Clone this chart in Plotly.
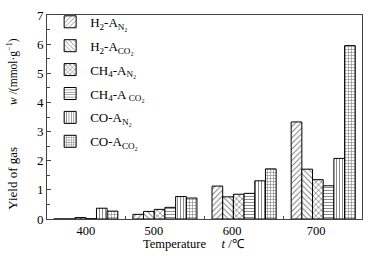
import plotly.graph_objects as go

temps = ["400", "500", "600", "700"]
x_pos = [0, 1, 2, 3]
label_pos = [0.0, 0.86, 1.85, 2.91]

series_names = [
    "H<sub>2</sub>-A<sub>N₂</sub>",
    "H<sub>2</sub>-A<sub>CO₂</sub>",
    "CH<sub>4</sub>-A<sub>N₂</sub>",
    "CH<sub>4</sub>-A<sub> CO₂</sub>",
    "CO-A<sub>N₂</sub>",
    "CO-A<sub>CO₂</sub>",
]
h2_an2 = [0.0, 0.16, 1.13, 3.33]
h2_aco2 = [0.0, 0.26, 0.76, 1.71]
ch4_an2 = [0.05, 0.33, 0.85, 1.35]
ch4_aco2 = [0.01, 0.40, 0.88, 1.14]
co_an2 = [0.37, 0.77, 1.31, 2.08]
co_aco2 = [0.27, 0.72, 1.72, 5.95]

series_values = [h2_an2, h2_aco2, ch4_an2, ch4_aco2, co_an2, co_aco2]
patterns = ["/", "\\", "x", "-", "|", "+"]
pattern_sizes = [4, 4, 4, 3, 3, 3]
solidities = [0.25, 0.25, 0.35, 0.3, 0.3, 0.35]

FONT = "Liberation Serif"
AX = "#444444"
W, H = 369, 258
ML, MR, MT, MB = 47, 7, 11, 39
PW, PH = W - ML - MR, H - MT - MB


def px_x(px):
    return (px - ML) / PW


def px_y(py):
    return (H - MB - py) / PH


fig = go.Figure()
for i, (name, vals) in enumerate(zip(series_names, series_values)):
    fig.add_trace(go.Bar(
        x=x_pos, y=vals, name=name, legendgroup=f"g{i}",
        marker=dict(
            color="white",
            line=dict(color="black", width=1),
            pattern=dict(shape=patterns[i], fgcolor="black", bgcolor="white",
                         size=pattern_sizes[i], solidity=solidities[i],
                         fillmode="overlay"),
        ),
    ))

fig.update_layout(
    width=W, height=H,
    margin=dict(l=ML, r=MR, t=MT, b=MB),
    paper_bgcolor="white", plot_bgcolor="white",
    barmode="group", bargap=0.19, bargroupgap=0,
    font=dict(family=FONT, size=13, color="black"),
    showlegend=True,
    legend=dict(x=0.01, y=1.04, xanchor="left", yanchor="top",
                bgcolor="rgba(0,0,0,0)", tracegroupgap=4, maxheight=250,
                font=dict(family=FONT, size=13, color="black")),
    xaxis=dict(
        range=[-0.49, 3.49], showgrid=False, zeroline=False,
        tickmode="array", tickvals=label_pos, ticktext=temps,
        ticks="", showline=True, linecolor=AX, linewidth=1, mirror=True,
        tickfont=dict(family=FONT, size=12.5, color="black"),
        minor=dict(tickmode="array", tickvals=[0.5, 1.5, 2.5], ticks="inside",
                   ticklen=3, tickcolor=AX),
    ),
    yaxis=dict(
        range=[0, 7], showgrid=False, zeroline=False,
        tickmode="array", tickvals=[0, 1, 2, 3, 4, 5, 6, 7],
        ticks="inside", ticklen=4, tickcolor=AX,
        showline=True, linecolor=AX, linewidth=1, mirror=True,
        tickfont=dict(family=FONT, size=13, color="black"),
        minor=dict(tickmode="array", tickvals=[0.5, 1.5, 2.5, 3.5, 4.5, 5.5, 6.5],
                   ticks="inside", ticklen=3, tickcolor=AX),
    ),
    annotations=[
        dict(text="Temperature" + "\u00a0" * 5 + "<i>t</i> /℃",
             xref="paper", yref="paper", x=px_x(194), y=px_y(244),
             xanchor="center", yanchor="middle", showarrow=False,
             font=dict(family=FONT, size=12.5, color="black")),
        dict(text="Yield of gas",
             xref="paper", yref="paper", x=px_x(13), y=px_y(178),
             xanchor="center", yanchor="middle", textangle=-90, showarrow=False,
             font=dict(family=FONT, size=13, color="black")),
        dict(text="<i>w</i> /(mmol·g<sup>−1</sup>)",
             xref="paper", yref="paper", x=px_x(13), y=px_y(69),
             xanchor="center", yanchor="middle", textangle=-90, showarrow=False,
             font=dict(family=FONT, size=11.5, color="black")),
    ],
)

fig.write_html("out.html", config={"displayModeBar": False},
               post_script="document.body.style.margin='0';")
